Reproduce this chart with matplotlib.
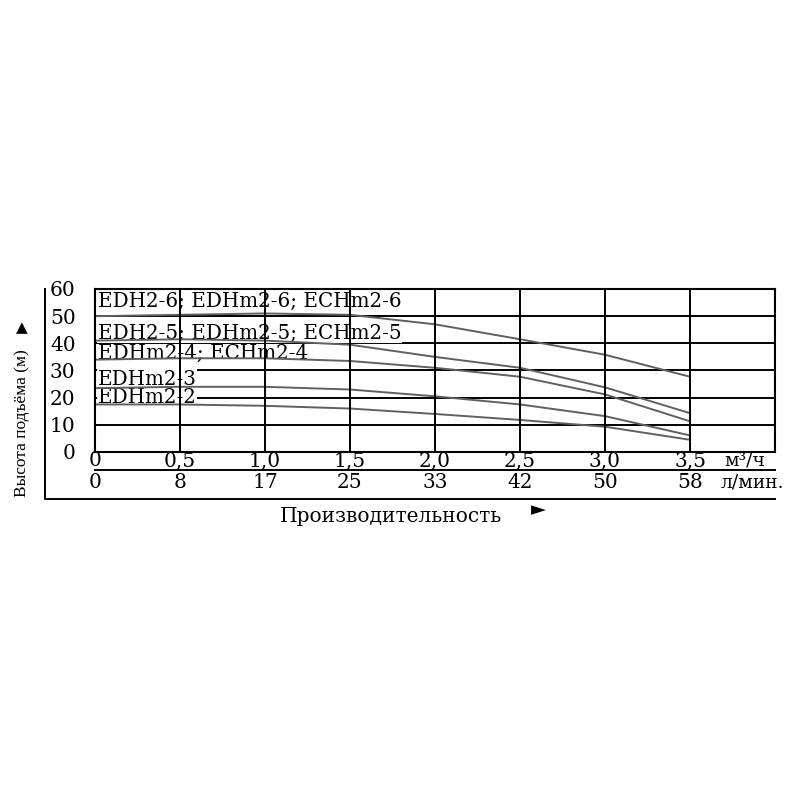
import matplotlib
matplotlib.use("Agg")
import matplotlib.pyplot as plt

# flow rate, m3/h
flow = [0, 0.5, 1.0, 1.5, 2.0, 2.5, 3.0, 3.5]
flow_lmin = ["0", "8", "17", "25", "33", "42", "50", "58"]
flow_m3h = ["0", "0,5", "1,0", "1,5", "2,0", "2,5", "3,0", "3,5"]

# head, m
head_6 = [50, 50.5, 51, 50.5, 47, 41.5, 35.8, 27.7]
head_5 = [41, 41.5, 41, 39.5, 35, 31, 23.8, 14.3]
head_4 = [34, 34.5, 34.5, 33.5, 31, 27.7, 21.2, 11.3]
head_3 = [23.5, 24, 24, 23, 20.5, 17.5, 13.2, 6.1]
head_2 = [17.5, 17.5, 17, 16, 14, 11.8, 9.3, 4.5]

curve_names = [
    "EDH2-6; EDHm2-6; ECHm2-6",
    "EDH2-5; EDHm2-5; ECHm2-5",
    "EDHm2-4; ECHm2-4",
    "EDHm2-3",
    "EDHm2-2",
]
name_y = [55.3, 43.6, 36.2, 26.8, 20.0]

y_ticks = [0, 10, 20, 30, 40, 50, 60]

SERIF = "DejaVu Serif"

fig = plt.figure(figsize=(8, 8), dpi=100)
ax = fig.add_axes([95 / 800, 1 - 452 / 800, 680 / 800, 163 / 800])
ax.set_xlim(0, 4)
ax.set_ylim(0, 60)

# grid
for yv in y_ticks[1:-1]:
    ax.axhline(yv, color="black", lw=1.4, zorder=1)
for xv in flow[1:]:
    ax.axvline(xv, color="black", lw=1.4, zorder=4)
for sp in ax.spines.values():
    sp.set_linewidth(1.5)
    sp.set_zorder(5)

# pump curves
for h in [head_6, head_5, head_4, head_3, head_2]:
    ax.plot(flow, h, color="#606060", lw=1.4, zorder=3)

for name, yv in zip(curve_names, name_y):
    ax.text(0.015, yv, name, fontsize=14.3, family=SERIF, va="center", ha="left",
            zorder=2, bbox=dict(facecolor="white", edgecolor="none", pad=0.3))

# y axis
ax.set_yticks(y_ticks)
ax.set_yticklabels([str(v) for v in y_ticks], fontsize=14.5, family=SERIF)
ax.tick_params(axis="y", length=0, pad=14)

# x axis rows
ax.set_xticks([])
xt = ax.get_xaxis_transform()
for xv, lab in zip(flow, flow_m3h):
    ax.text(xv, -0.055, lab, transform=xt, fontsize=14.5, family=SERIF,
            ha="center", va="center")
ax.text(3.7, -0.055, "м³/ч", transform=xt, fontsize=13.5, family=SERIF,
        ha="left", va="center")
for xv, lab in zip(flow, flow_lmin):
    ax.text(xv, -0.19, lab, transform=xt, fontsize=14.5, family=SERIF,
            ha="center", va="center")
ax.text(3.68, -0.19, "л/мин.", transform=xt, fontsize=13.5, family=SERIF,
        ha="left", va="center")

# separator and outer frame
ax.plot([0, 1], [-0.11, -0.11], transform=ax.transAxes, color="black",
        lw=1.4, clip_on=False)
ax.plot([-0.0735, -0.0735, 1], [1, -0.29, -0.29], transform=ax.transAxes,
        color="black", lw=1.4, clip_on=False)

# axis titles
fig.text(22 / 800, 1 - 423 / 800, "Высота подъёма (м)", rotation=90,
         fontsize=12.5, family="Liberation Serif", ha="center", va="center")
fig.text(22 / 800, 1 - 328 / 800, "▲", fontsize=11, family="DejaVu Sans",
         ha="center", va="center")
fig.text(391 / 800, 1 - 516 / 800, "Производительность", fontsize=14.5,
         family=SERIF, ha="center", va="center")
fig.text(538 / 800, 1 - 510 / 800, "►", fontsize=14, family="DejaVu Sans",
         ha="center", va="center")

fig.savefig("out.png", dpi=100)
plt.close(fig)
